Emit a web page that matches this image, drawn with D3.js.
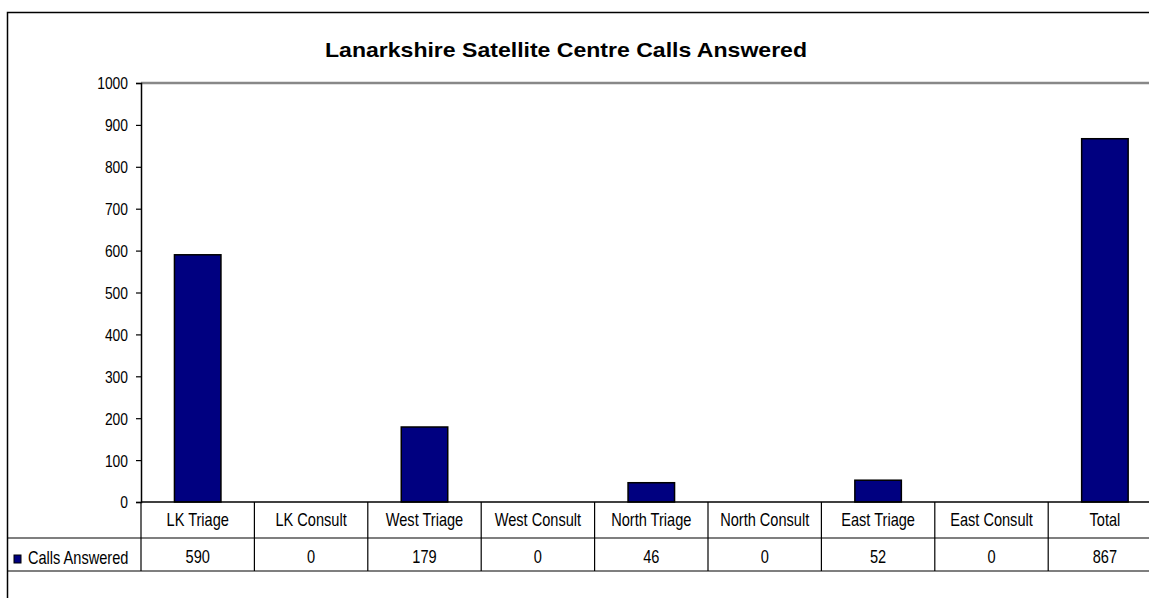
<!DOCTYPE html>
<html>
<head>
<meta charset="utf-8">
<script src="https://cdn.jsdelivr.net/npm/d3@7"></script>
<style>
  body { margin: 0; background: #fff; }
  svg { display: block; }
  text { font-family: "Liberation Sans", Arial, sans-serif; fill: #000; }
  .title { font-weight: bold; }
</style>
</head>
<body>
<svg id="chart"></svg>
<script>
const chartWidth = 1149;
const chartHeight = 598;

const TITLE = "Lanarkshire Satellite Centre Calls Answered";
const SERIES_NAME = "Calls Answered";
const categories = ["LK Triage", "LK Consult", "West Triage", "West Consult", "North Triage",
    "North Consult", "East Triage", "East Consult", "Total"];
const callsAnswered = [590, 0, 179, 0, 46, 0, 52, 0, 867];
const yTicks = [0, 100, 200, 300, 400, 500, 600, 700, 800, 900, 1000];

const plot = {left: 141, right: 1161.6, top: 83, bottom: 502};
const tableRowH = 36;
const dataRowBottom = 571;
const BAR_FILL = "#000080";
// the original fonts are tall and narrow, so text gets squeezed horizontally
const NARROW = 0.81;

const svg = d3.select("#chart")
    .attr("width", chartWidth)
    .attr("height", chartHeight);

function narrowText(g, x, y, str, size, anchor) {
    return g.append("text")
        .attr("transform", `translate(${x},${y}) scale(${NARROW},1)`)
        .attr("text-anchor", anchor || "middle")
        .attr("font-size", size)
        .text(str);
}

// outer chart frame (runs off the right and bottom edges)
svg.append("rect")
    .attr("x", 7.5).attr("y", 12.5)
    .attr("width", 1180).attr("height", 620)
    .attr("fill", "none").attr("stroke", "#000").attr("stroke-width", 1.5);

const xScale = d3.scaleBand().domain(categories).range([plot.left, plot.right]).padding(0);
const yScale = d3.scaleLinear().domain([0, 1000]).range([plot.bottom, plot.top]);

// title
svg.append("text")
    .attr("class", "title")
    .attr("x", 566).attr("y", 57)
    .attr("text-anchor", "middle")
    .attr("font-size", 21)
    .attr("textLength", 482)
    .attr("lengthAdjust", "spacingAndGlyphs")
    .text(TITLE);

// top gridline
svg.append("line")
    .attr("x1", plot.left).attr("x2", chartWidth)
    .attr("y1", yScale(1000)).attr("y2", yScale(1000))
    .attr("stroke", "#888").attr("stroke-width", 2.5);

// bars
const barW = xScale.bandwidth() * 0.41;
svg.append("g").selectAll("rect")
    .data(categories.map((c, i) => ({cat: c, v: callsAnswered[i]})).filter(d => d.v > 0))
    .join("rect")
    .attr("x", d => xScale(d.cat) + (xScale.bandwidth() - barW) / 2)
    .attr("y", d => yScale(d.v))
    .attr("width", barW)
    .attr("height", d => yScale(0) - yScale(d.v))
    .attr("fill", BAR_FILL)
    .attr("stroke", "#000")
    .attr("stroke-width", 1.5);

// y axis
const yAxis = svg.append("g")
    .attr("transform", `translate(${plot.left},0)`)
    .call(d3.axisLeft(yScale).tickValues(yTicks).tickSize(5).tickPadding(8).tickFormat(d3.format("d")));
yAxis.select(".domain").attr("stroke", "#000").attr("stroke-width", 1.5);
yAxis.selectAll(".tick line").attr("stroke", "#000").attr("stroke-width", 1.2);
yAxis.selectAll(".tick text")
    .attr("x", null)
    .attr("dy", "0.36em")
    .attr("transform", `translate(-13,0) scale(0.84,1)`)
    .attr("font-size", 16.5)
    .attr("font-family", null);

// data table
const table = svg.append("g");
const lineColor = "#000";

// header row: top border is the category axis
table.append("line")
    .attr("x1", plot.left).attr("x2", chartWidth)
    .attr("y1", plot.bottom).attr("y2", plot.bottom)
    .attr("stroke", lineColor).attr("stroke-width", 1.5);
[plot.bottom + tableRowH, dataRowBottom].forEach(y => {
    table.append("line")
        .attr("x1", 7).attr("x2", chartWidth)
        .attr("y1", y).attr("y2", y)
        .attr("stroke", lineColor).attr("stroke-width", 1.2);
});
categories.forEach(c => {
    const x = xScale(c);
    table.append("line")
        .attr("x1", x).attr("x2", x)
        .attr("y1", plot.bottom).attr("y2", dataRowBottom)
        .attr("stroke", lineColor).attr("stroke-width", 1.2);
    narrowText(table, x + xScale.bandwidth() / 2, 526, c, 18);
});
table.append("line")
    .attr("x1", plot.right).attr("x2", plot.right)
    .attr("y1", plot.bottom).attr("y2", dataRowBottom)
    .attr("stroke", lineColor).attr("stroke-width", 1.2);

callsAnswered.forEach((v, i) => {
    narrowText(table, xScale(categories[i]) + xScale.bandwidth() / 2, 563, v, 18);
});

// legend key in the table's row header
table.append("rect")
    .attr("x", 14).attr("y", 555)
    .attr("width", 7).attr("height", 8)
    .attr("fill", BAR_FILL).attr("stroke", "#000").attr("stroke-width", 1);
narrowText(table, 28, 564, SERIES_NAME, 18, "start");
</script>
</body>
</html>
